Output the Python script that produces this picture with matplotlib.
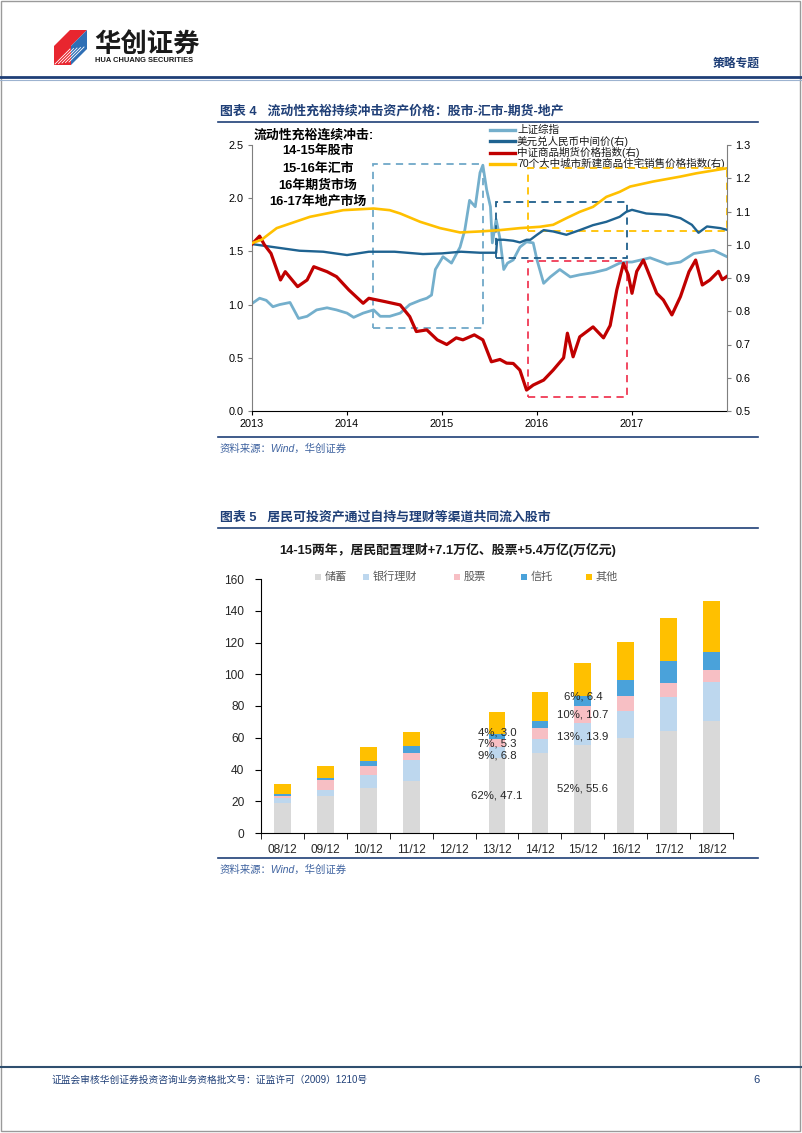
import matplotlib.pyplot as plt
from matplotlib.patches import Rectangle, Polygon
import numpy as np

plt.rcParams['font.family'] = ['Liberation Sans', 'Noto Sans CJK SC', 'DejaVu Sans']

# ---------------- chart 4 data ----------------
# 上证综指 (left axis)
sz_t = [2013.0, 2013.08, 2013.15, 2013.22, 2013.29, 2013.40, 2013.49, 2013.58, 2013.68, 2013.79,
        2013.89, 2014.0, 2014.07, 2014.17, 2014.28, 2014.35, 2014.45, 2014.56, 2014.66, 2014.77,
        2014.84, 2014.89, 2014.93, 2015.01, 2015.10, 2015.19, 2015.24, 2015.29, 2015.35, 2015.40,
        2015.43, 2015.47, 2015.51, 2015.53, 2015.57, 2015.61, 2015.65, 2015.69, 2015.75, 2015.82,
        2015.89, 2015.96, 2016.0, 2016.07, 2016.14, 2016.24, 2016.35, 2016.45, 2016.59, 2016.73,
        2016.87, 2016.94, 2017.0, 2017.19, 2017.37, 2017.51, 2017.65, 2017.86, 2018.0]
sz_v = [1.01, 1.06, 1.04, 0.98, 1.00, 1.02, 0.87, 0.89, 0.95, 0.97,
        0.95, 0.92, 0.88, 0.92, 0.95, 0.89, 0.89, 0.92, 1.00, 1.04,
        1.06, 1.09, 1.33, 1.45, 1.39, 1.54, 1.70, 1.98, 1.92, 2.24,
        2.31, 2.08, 1.92, 1.58, 1.80, 1.62, 1.33, 1.39, 1.42, 1.54,
        1.59, 1.58, 1.42, 1.20, 1.26, 1.33, 1.26, 1.28, 1.30, 1.33,
        1.39, 1.40, 1.40, 1.44, 1.38, 1.40, 1.48, 1.51, 1.45]

# 美元兑人民币中间价 (right axis)
fx_t = [2013.0, 2013.2, 2013.5, 2013.75, 2014.0, 2014.23, 2014.5, 2014.8, 2015.0, 2015.2,
        2015.4, 2015.57, 2015.58, 2015.65, 2015.75, 2015.82, 2015.89, 2015.93, 2016.0, 2016.07,
        2016.17, 2016.31, 2016.45, 2016.59, 2016.73, 2016.87, 2016.94, 2017.0, 2017.15, 2017.37,
        2017.51, 2017.63, 2017.70, 2017.79, 2017.93, 2018.0]
fx_v = [1.002, 0.994, 0.982, 0.979, 0.969, 0.979, 0.979, 0.972, 0.974, 0.979,
        0.976, 0.976, 1.015, 1.015, 1.012, 1.007, 1.015, 1.015, 1.03, 1.044,
        1.04, 1.03, 1.044, 1.059, 1.069, 1.084, 1.099, 1.105, 1.094, 1.09,
        1.08, 1.06, 1.036, 1.055, 1.05, 1.045]

# 中证商品期货价格指数 (right axis)
cm_t = [2013.0, 2013.08, 2013.13, 2013.2, 2013.3, 2013.35, 2013.48, 2013.58, 2013.65, 2013.79,
        2013.89, 2014.02, 2014.17, 2014.23, 2014.4, 2014.56, 2014.66, 2014.73, 2014.84, 2014.95,
        2015.05, 2015.15, 2015.22, 2015.34, 2015.43, 2015.52, 2015.61, 2015.68, 2015.75, 2015.82,
        2015.89, 2015.96, 2016.07, 2016.17, 2016.28, 2016.32, 2016.38, 2016.45, 2016.59, 2016.70,
        2016.77, 2016.84, 2016.91, 2016.96, 2017.0, 2017.05, 2017.12, 2017.19, 2017.26, 2017.33,
        2017.42, 2017.51, 2017.60, 2017.67, 2017.74, 2017.82, 2017.91, 2017.95, 2018.0]
cm_v = [1.002, 1.026, 1.0, 0.974, 0.894, 0.919, 0.874, 0.894, 0.934, 0.919,
        0.904, 0.864, 0.824, 0.839, 0.829, 0.819, 0.784, 0.739, 0.744, 0.714,
        0.70, 0.72, 0.714, 0.729, 0.714, 0.648, 0.655, 0.644, 0.643, 0.623,
        0.563, 0.578, 0.593, 0.623, 0.66, 0.734, 0.663, 0.723, 0.753, 0.72,
        0.757, 0.864, 0.944, 0.91, 0.854, 0.92, 0.954, 0.904, 0.854, 0.834,
        0.789, 0.844, 0.919, 0.954, 0.879, 0.894, 0.92, 0.895, 0.905]

# 70个大中城市新建商品住宅销售价格指数 (right axis)
hp_t = [2013.0, 2013.1, 2013.26, 2013.61, 2013.96, 2014.28, 2014.45, 2014.56, 2014.77, 2014.98,
        2015.19, 2015.40, 2015.61, 2015.82, 2016.03, 2016.17, 2016.31, 2016.45, 2016.59, 2016.73,
        2016.87, 2016.98, 2017.22, 2017.51, 2017.68, 2018.0]
hp_v = [1.005, 1.015, 1.05, 1.084, 1.104, 1.109, 1.104, 1.094, 1.069, 1.05,
        1.037, 1.04, 1.044, 1.05, 1.054, 1.06, 1.08, 1.099, 1.114, 1.144,
        1.159, 1.175, 1.19, 1.205, 1.215, 1.23]

line_labels = ['上证综指', '美元兑人民币中间价(右)', '中证商品期货价格指数(右)',
               '70个大中城市新建商品住宅销售价格指数(右)']
line_colors = ['#74AFCC', '#1F6391', '#C00000', '#FFC000']

# dashed boxes: (x0, x1, y0, y1), 上证 box on left axis, the rest on right axis
box_sz = (2014.27, 2015.43, 0.78, 2.32)
box_fx = (2015.57, 2016.95, 0.961, 1.129)
box_cm = (2015.90, 2016.95, 0.543, 0.952)
box_hp = (2015.91, 2018.0, 1.042, 1.232)

notes = ['流动性充裕连续冲击:', '14-15年股市', '15-16年汇市', '16年期货市场', '16-17年地产市场']

# ---------------- chart 5 data ----------------
years = ['08/12', '09/12', '10/12', '11/12', '12/12', '13/12', '14/12', '15/12', '16/12', '17/12', '18/12']
savings = [18.8, 23.0, 28.2, 33.0, 0, 47.1, 50.5, 55.6, 59.7, 64.5, 70.8]
wealth = [3.2, 4.2, 8.4, 13.0, 0, 6.8, 8.8, 13.9, 17.2, 20.9, 24.5]
stocks = [1.6, 5.9, 5.6, 4.6, 0, 5.3, 6.9, 10.7, 9.6, 9.4, 7.3]
trust = [1.0, 1.3, 2.9, 4.2, 0, 3.0, 4.6, 6.4, 9.6, 13.4, 11.5]
other = [6.3, 7.5, 8.8, 9.0, 0, 13.8, 17.8, 20.4, 24.5, 27.4, 32.3]
bar_names = ['储蓄', '银行理财', '股票', '信托', '其他']
bar_colors = ['#D9D9D9', '#BDD7EE', '#F7BFC4', '#4AA2DA', '#FFC000']
labelled_years = ['13/12', '15/12']

W, H = 802, 1133
navy = '#1F3F77'
fig = plt.figure(figsize=(W / 100, H / 100), dpi=100)


def box(x0, y0, x1, y1):
    return [x0 / W, 1 - y1 / H, (x1 - x0) / W, (y1 - y0) / H]


page = fig.add_axes([0, 0, 1, 1])
page.set_xlim(0, W)
page.set_ylim(H, 0)
page.axis('off')

# page frame and header
page.add_patch(Rectangle((1, 1), 799, 1130, fill=False, ec='#9a9a9a', lw=1))
page.add_patch(Polygon([(54, 46), (70, 30), (87, 30), (71, 46), (71, 65), (54, 65)], color='#E8262F', lw=0))
page.add_patch(Polygon([(71, 46), (87, 30), (87, 49), (71, 65)], color='#2F6FB5', lw=0))
for k in range(5):
    page.plot([55 + k * 3.5, 70 + k * 3.5], [64 - k * 0.5, 49 - k * 0.5], color='white', lw=0.6)
page.text(94, 44, '华创证券', fontsize=19, weight='bold', color='#1a1a1a', va='center', ha='left')
page.text(95, 61, 'HUA CHUANG SECURITIES', fontsize=5.4, weight='bold', color='#1a1a1a', va='center')
page.text(760, 64, '策略专题', fontsize=8.5, weight='bold', color=navy, va='center', ha='right')
page.plot([0, W], [77, 77], color=navy, lw=2)
page.plot([0, W], [79.5, 79.5], color='#9DB3D0', lw=0.8)


def section(y_title, title, y_src):
    page.text(220, y_title, title, fontsize=9.3, weight='bold', color=navy, va='center')
    page.plot([218, 758], [y_title + 11, y_title + 11], color=navy, lw=1.2)
    page.plot([218, 758], [y_src - 12, y_src - 12], color=navy, lw=1.2)
    page.text(220, y_src, '资料来源：Wind，华创证券', fontsize=7.5, style='italic', color='#3F63A0', va='center')


section(111, '图表 4   流动性充裕持续冲击资产价格：股市-汇市-期货-地产', 449)
section(517, '图表 5   居民可投资产通过自持与理财等渠道共同流入股市', 870)

# footer
page.plot([0, W], [1067, 1067], color='#2F4F6F', lw=1.5)
page.text(51, 1080, '证监会审核华创证券投资咨询业务资格批文号：证监许可（2009）1210号',
          fontsize=7, color=navy, va='center')
page.text(757, 1080, '6', fontsize=8, color=navy, va='center', ha='center')

# ---------------- chart 4 ----------------
ax = fig.add_axes(box(252, 145, 727, 411))
ax.patch.set_alpha(0)
ax2 = ax.twinx()
ax.plot(sz_t, sz_v, color=line_colors[0], lw=2.0)
ax2.plot(fx_t, fx_v, color=line_colors[1], lw=1.7)
ax2.plot(cm_t, cm_v, color=line_colors[2], lw=2.3)
ax2.plot(hp_t, hp_v, color=line_colors[3], lw=1.9)

for a, b, c in [(ax, box_sz, '#6FA8C8'), (ax2, box_fx, '#1F5F8B'),
                (ax2, box_cm, '#F03A55'), (ax2, box_hp, '#FFC000')]:
    a.add_patch(Rectangle((b[0], b[2]), b[1] - b[0], b[3] - b[2], fill=False,
                          ec=c, lw=1.3, ls=(0, (4, 3))))

ax.set_xlim(2013, 2018)
ax.set_ylim(0, 2.5)
ax2.set_ylim(0.5, 1.3)
ax.set_xticks([2013, 2014, 2015, 2016, 2017])
ax.set_xticklabels(['2013', '2014', '2015', '2016', '2017'])
ax.set_yticks(np.arange(0, 2.51, 0.5))
ax.set_yticklabels(['%.1f' % v for v in np.arange(0, 2.51, 0.5)])
ax2.set_yticks(np.arange(0.5, 1.31, 0.1))
ax2.set_yticklabels(['%.1f' % v for v in np.arange(0.5, 1.31, 0.1)])
ax.tick_params(axis='both', direction='out', length=3, labelsize=7.8, pad=3, color='#7f7f7f')
ax2.tick_params(axis='y', direction='out', length=3, labelsize=7.8, pad=3, color='#7f7f7f')
ax.tick_params(axis='x', color='black')
for s in ['top', 'right']:
    ax.spines[s].set_visible(False)
for s in ['top', 'left', 'bottom']:
    ax2.spines[s].set_visible(False)
ax.spines['left'].set_color('#7f7f7f')
ax2.spines['right'].set_color('#7f7f7f')

# legend (drawn by hand at the reference spots)
for i, (lab, col) in enumerate(zip(line_labels, line_colors)):
    y = 130 + i * 11.3
    page.plot([490, 515], [y, y], color=col, lw=2.4)
    page.text(517, y, lab, fontsize=7.6, va='center', ha='left', color='#1a1a1a')

page.text(314, 135, notes[0], fontsize=9.3, weight='bold', ha='center', va='center')
for i, n in enumerate(notes[1:]):
    page.text(318, 152 + i * 16.6, n, fontsize=9.3, weight='bold', ha='center', va='center')

# ---------------- chart 5 ----------------
page.text(448, 550, '14-15两年，居民配置理财+7.1万亿、股票+5.4万亿(万亿元)',
          fontsize=9.3, weight='bold', ha='center', va='center', color='#1a1a1a')

ax5 = fig.add_axes(box(261, 579, 733, 833))
ax5.patch.set_alpha(0)
x = np.arange(len(years))
series = [savings, wealth, stocks, trust, other]
label_shift = [0, -1.8, -0.3, 2.6, 0]
bottom = np.zeros(len(years))
totals = np.sum(series, axis=0)
for k, (vals, col) in enumerate(zip(series, bar_colors)):
    ax5.bar(x, vals, width=0.39, bottom=bottom, color=col, lw=0)
    if vals is not other:
        for lab in labelled_years:
            i = years.index(lab)
            ax5.text(i, bottom[i] + vals[i] / 2 + label_shift[k],
                     '%d%%, %.1f' % (round(vals[i] / totals[i] * 100), vals[i]),
                     ha='center', va='center', fontsize=8.2, color='#262626')
    bottom += np.array(vals)

ax5.set_xlim(-0.5, 10.5)
ax5.set_ylim(0, 160)
ax5.set_yticks(np.arange(0, 161, 20))
ax5.set_xticks(x)
ax5.set_xticklabels(years)
ax5.set_xticks(np.arange(-0.5, 10.6, 1), minor=True)
ax5.tick_params(axis='x', which='major', length=0, pad=8, labelsize=8.6, labelcolor='#262626')
ax5.tick_params(axis='x', which='minor', length=4, direction='out')
ax5.tick_params(axis='y', length=4, direction='out', pad=8, labelsize=8.6, labelcolor='#262626')
for s in ['top', 'right']:
    ax5.spines[s].set_visible(False)

leg_x = [318, 366, 457, 524, 589]
for lx, nm, col in zip(leg_x, bar_names, bar_colors):
    page.add_patch(Rectangle((lx - 3, 574), 6, 6, color=col, lw=0))
    page.text(lx + 7, 577, nm, fontsize=8, va='center', ha='left', color='#595959')

fig.savefig('out.png', dpi=100)
